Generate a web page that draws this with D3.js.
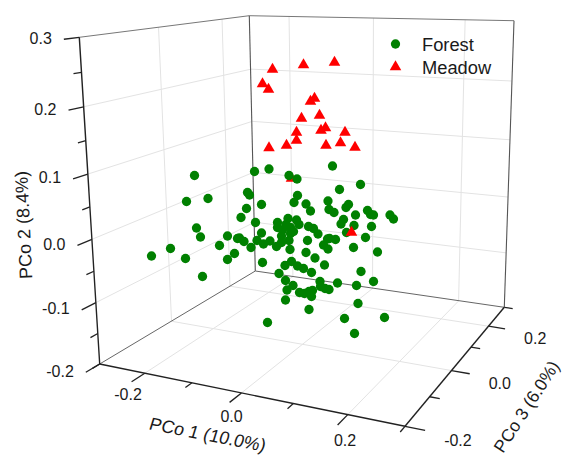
<!DOCTYPE html>
<html>
<head>
<meta charset="utf-8">
<script src="https://cdnjs.cloudflare.com/ajax/libs/d3/7.8.5/d3.min.js"></script>
<style>
body { margin: 0; background: #fff; }
text { font-family: "Liberation Sans", Arial, sans-serif; fill: #1a1a1a; }
</style>
</head>
<body>
<div id="chartholder"></div>
<script>
// the picture only gives each point's position in the view, so the samples are
// kept as two projected values (across, up) in PCo units
var forestAcross = [-.091,.029,-.107,-.064,.015,.019,.043,.013,.002,.031,-.087,-.079,.043,-.025,-.005,-.001,.008,.034,.047,-.041,
	.022,-.139,-.177,-.109,-.011,-.025,.045,-.075,.055,.058,.098,.114,.115,.108,.132,.141,.176,.178,.096,.113,
	.075,.075,.092,.118,.137,.147,.156,.101,.107,.101,.085,.083,.175,.135,.060,.098,.083,.073,.100,.167,
	.176,.185,.241,.199,.217,.212,.188,.255,.261,.267,.231,.300,.307,.207,.202,.228,.263,.213,.251,.179,
	.191,.227,.275,.132,.150,.169,.090,.103,.115,.127,.143,.078,.091,.160,.106,.094,.161,.170,.178,.119,
	.129,.138,.145,.143,.091,.138,.242,.195,.233,.267,.236,.209,.289,.229];
var forestUp = [.129,.137,.077,.083,.095,.090,.071,.063,.045,.035,.024,.006,.014,.008,.003,.004,-.003,-.001,-.008,-.011,
	-.015,-.017,-.032,-.037,-.027,-.039,-.045,-.073,-.165,.142,.129,.122,.089,.075,.072,.058,.078,.061,.043,.040,
	.035,.025,.031,.031,.027,.023,.012,.025,.017,.013,.020,.008,.002,-.001,-.002,-.001,-.005,-.013,-.019,-.010,
	-.018,.148,.111,.101,.071,.065,.055,.059,.051,.050,.050,.050,.042,.041,.032,.029,.027,.015,.005,.003,
	.001,-.015,-.024,-.025,-.036,-.050,-.051,-.043,-.052,-.057,-.065,-.067,-.081,-.083,-.091,-.100,-.093,-.097,-.099,-.105,
	-.107,-.103,-.101,-.113,-.120,-.139,-.063,-.086,-.091,-.083,-.127,-.157,-.155,-.187];
var meadowAcross = [.065,.127,.189,.045,.057,.149,.141,.159,.123,.171,.162,.210,.113,.113,.201,.172,.093,.058,.230,.103,.223];
var meadowUp = [.341,.350,.355,.312,.301,.283,.277,.249,.243,.224,.219,.215,.215,.199,.194,.189,.189,.184,.185,.123,.015];

var pco1Ticks = [-0.3,-0.2,-0.1,0,0.1,0.2,0.3];
var pco2Ticks = [-0.2,-0.15,-0.1,-0.05,0,0.05,0.1,0.15,0.2,0.25,0.3];
var pco3Ticks = [-0.2,-0.1,0,0.1,0.2,0.3];
var pco1Labelled = [-0.2,0,0.2];
var pco2Labelled = [-0.2,-0.1,0,0.1,0.2,0.3];
var pco3Labelled = [-0.2,0,0.2];
var legendNames = ["Forest","Meadow"];

var green = "#008000", red = "#ff0000";

var svg = d3.select("#chartholder")
	.append("svg")
	.attr("width",563)
	.attr("height",457);

// view scales for the samples
var across = d3.scaleLinear().domain([-0.2,0.2]).range([140,340]);
var up = d3.scaleLinear().domain([-0.2,0.2]).range([340,140]);

// box axes as 0..1 along each edge
var s1 = d3.scaleLinear().domain([-0.3,0.3]).range([0,1]);
var s2 = d3.scaleLinear().domain([-0.2,0.3]).range([0,1]);
var s3 = d3.scaleLinear().domain([-0.2,0.3]).range([0,1]);

// square to quad perspective map, corners go (0,0) (1,0) (1,1) (0,1)
function perspective(p0,p1,p2,p3){
	var dx1=p1[0]-p2[0], dx2=p3[0]-p2[0], sx=p0[0]-p1[0]+p2[0]-p3[0];
	var dy1=p1[1]-p2[1], dy2=p3[1]-p2[1], sy=p0[1]-p1[1]+p2[1]-p3[1];
	var den=dx1*dy2-dx2*dy1;
	var g=(sx*dy2-dx2*sy)/den, h=(dx1*sy-sx*dy1)/den;
	var a=p1[0]-p0[0]+g*p1[0], b=p3[0]-p0[0]+h*p3[0];
	var d=p1[1]-p0[1]+g*p1[1], e=p3[1]-p0[1]+h*p3[1];
	return function(u,v){
		var w=g*u+h*v+1;
		return [(a*u+b*v+p0[0])/w,(d*u+e*v+p0[1])/w];
	};
}

var cornerLeft=[99.7,364], cornerFront=[405,426.3], cornerRight=[504.3,307.3], cornerBack=[255.3,271];
var topLeft=[79.3,37.3], topBack=[249.3,15.7], topRight=[514,20.7];

var floorMap = perspective(cornerLeft,cornerFront,cornerRight,cornerBack);
var leftMap = perspective(cornerLeft,cornerBack,topBack,topLeft);
var backMap = perspective(cornerBack,cornerRight,topRight,topBack);

function floorPt(p1,p3){ return floorMap(s1(p1),s3(p3)); }
function leftPt(p3,p2){ return leftMap(s3(p3),s2(p2)); }
function backPt(p1,p2){ return backMap(s1(p1),s2(p2)); }

function seg(parent,a,b,color,w){
	parent.append("line")
		.attr("x1",a[0]).attr("y1",a[1])
		.attr("x2",b[0]).attr("y2",b[1])
		.attr("stroke",color)
		.attr("stroke-width",w);
}

//grid lines
var grid = svg.append("g");
var gridColor = "#e3e3e3";
pco1Labelled.forEach(function(v){
	seg(grid,floorPt(v,-0.2),floorPt(v,0.3),gridColor,1);
	seg(grid,backPt(v,-0.2),backPt(v,0.3),gridColor,1);
});
[0,0.2].forEach(function(v){
	seg(grid,floorPt(-0.3,v),floorPt(0.3,v),gridColor,1);
	seg(grid,leftPt(v,-0.2),leftPt(v,0.3),gridColor,1);
});
[-0.1,0,0.1,0.2].forEach(function(v){
	seg(grid,leftPt(-0.2,v),leftPt(0.3,v),gridColor,1);
	seg(grid,backPt(-0.3,v),backPt(0.3,v),gridColor,1);
});

//box edges
var box = svg.append("g");
seg(box,topLeft,topBack,"#777",1);
seg(box,topBack,topRight,"#777",1);
seg(box,topBack,cornerBack,"#555",1.1);
seg(box,topRight,cornerRight,"#555",1.1);
seg(box,cornerLeft,cornerBack,"#666",1);
seg(box,cornerBack,cornerRight,"#666",1);
seg(box,topLeft,cornerLeft,"#222",1.4);
seg(box,cornerLeft,cornerFront,"#222",1.4);
seg(box,cornerFront,cornerRight,"#222",1.4);

//ticks and labels
var ink = "#222", major = 0.034, minor = 0.018;
var axes = svg.append("g");
var labels = svg.append("g").attr("font-size",16);
// plain hyphen for negatives, as in the original labels
var fmt = function(v){ return d3.format(".1f")(v).replace("\u2212","-"); };
function isIn(list,v){ return list.some(function(d){ return Math.abs(d-v)<1e-6; }); }

pco2Ticks.forEach(function(v){
	var big = isIn(pco2Labelled,v);
	var end = leftPt(-0.2-(big?major:minor),v);
	seg(axes,leftPt(-0.2,v),end,ink,1.3);
	if(big){
		labels.append("text").attr("x",end[0]-12).attr("y",end[1]-1).attr("dy",".35em")
			.attr("text-anchor","end").text(fmt(v));
	}
});

var pco1LabelDx = d3.scaleLinear().domain([-0.2,0.2]).range([-3.5,7.4]);
var pco1LabelDy = d3.scaleLinear().domain([-0.2,0.2]).range([13,15.7]);
pco1Ticks.forEach(function(v){
	var big = isIn(pco1Labelled,v);
	var end = floorPt(v,-0.2-(big?major:minor));
	seg(axes,floorPt(v,-0.2),end,ink,1.3);
	if(big){
		labels.append("text").attr("x",end[0]+pco1LabelDx(v)).attr("y",end[1]+pco1LabelDy(v)).attr("dy",".35em")
			.attr("text-anchor","middle").text(fmt(v));
	}
});

pco3Ticks.forEach(function(v){
	var big = isIn(pco3Labelled,v);
	var end = floorPt(0.3+(big?major:minor),v);
	seg(axes,floorPt(0.3,v),end,ink,1.3);
	if(big){
		labels.append("text").attr("x",end[0]+19).attr("y",end[1]+9.5).attr("dy",".35em")
			.attr("text-anchor","start").text(fmt(v));
	}
});

//axis titles
svg.append("text")
	.attr("transform","translate(206,440.5) rotate(11) skewX(-6)")
	.attr("text-anchor","middle").attr("font-size",18)
	.text("PCo 1 (10.0%)");
svg.append("text")
	.attr("transform","translate(23.5,225) rotate(-92.6)")
	.attr("text-anchor","middle").attr("dy",".35em").attr("font-size",18)
	.text("PCo 2 (8.4%)");
svg.append("text")
	.attr("transform","translate(526.5,406.5) rotate(-57)")
	.attr("text-anchor","middle").attr("dy",".35em").attr("font-size",17.5)
	.text("PCo 3 (6.0%)");

//markers
var circle = d3.symbol().type(d3.symbolCircle).size(68)();
var triangle = d3.symbol().type(d3.symbolTriangle).size(58)();
var meadowIdx = d3.range(meadowUp.length);
var marks = svg.append("g");

function drawMeadow(idx){
	marks.selectAll(null)
		.data(idx)
		.enter().append("path")
		.attr("d",triangle)
		.attr("fill",red)
		.attr("transform",function(i){ return "translate("+across(meadowAcross[i])+","+up(meadowUp[i])+")"; });
}

// last meadow sample sits in front of the forest cloud, the others behind
drawMeadow(meadowIdx.slice(0,-1));
marks.selectAll(null)
	.data(d3.range(forestUp.length))
	.enter().append("path")
	.attr("d",circle)
	.attr("fill",green)
	.attr("transform",function(i){ return "translate("+across(forestAcross[i])+","+up(forestUp[i])+")"; });
drawMeadow(meadowIdx.slice(-1));

//legend
var legend = svg.append("g").attr("font-size",18.3);
var legendY = d3.scalePoint().domain(legendNames).range([44,67]);
legendNames.forEach(function(name,i){
	legend.append("path")
		.attr("d",i==0?circle:triangle)
		.attr("fill",i==0?green:red)
		.attr("transform","translate(395.5,"+legendY(name)+")");
	legend.append("text")
		.attr("x",422)
		.attr("y",legendY(name)+6.6)
		.text(name);
});
</script>
</body>
</html>
